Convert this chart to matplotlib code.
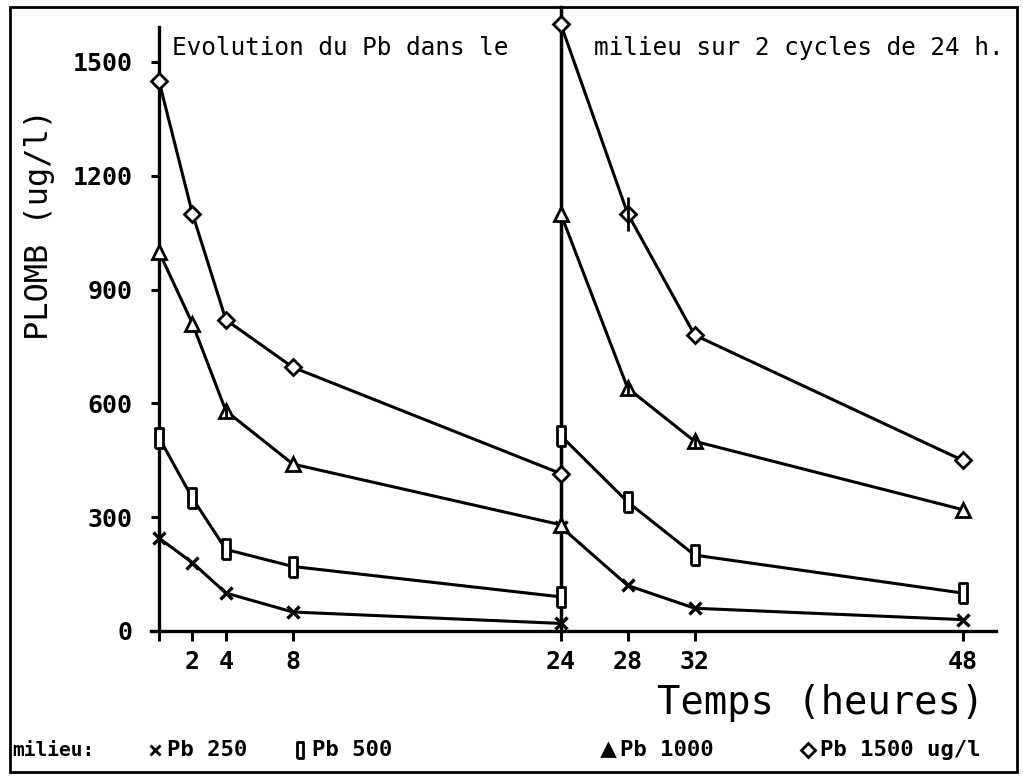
import matplotlib
matplotlib.use('Agg')
import matplotlib.pyplot as plt
from matplotlib.lines import Line2D
from matplotlib.patches import Rectangle

# temps (heures), deux cycles de 24 h
t_cycle1 = [0, 2, 4, 8, 24]
t_cycle2 = [24, 28, 32, 48]

# concentrations en plomb (ug/l)
pb250_c1 = [245, 180, 100, 50, 20]
pb250_c2 = [275, 120, 60, 30]
pb500_c1 = [510, 350, 215, 170, 90]
pb500_c2 = [515, 340, 200, 100]
pb1000_c1 = [1000, 810, 580, 440, 280]
pb1000_c2 = [1100, 640, 500, 320]
pb1500_c1 = [1450, 1100, 820, 695, 415]
pb1500_c2 = [1600, 1100, 780, 450]

# petites barres d'erreur visibles sur le trace
err1000_c1 = [0, 0, 15, 0, 0]
err1000_c2 = [0, 20, 15, 0]
err1500_c2 = [0, 45, 0, 0]

x_ticks = [0, 2, 4, 8, 24, 28, 32, 48]
x_ticklabels = ['', '2', '4', '8', '24', '28', '32', '48']
y_ticks = [0, 300, 600, 900, 1200, 1500]
y_ticklabels = ['0', '300', '600', '900', '1200', '1500']

mono = 'DejaVu Sans Mono'
rect_marker = [(-0.45, -1), (0.45, -1), (0.45, 1), (-0.45, 1), (-0.45, -1)]

fig = plt.figure(figsize=(10.23, 7.79), dpi=100)
ax = fig.add_axes([150.6 / 1023, 148 / 779, 845.4 / 1023, 604 / 779])

lw = 2.2
styles = [
    (pb250_c1, pb250_c2, None, None, dict(marker='x', markersize=9, mew=2.4)),
    (pb500_c1, pb500_c2, None, None, dict(marker=rect_marker, markersize=14, mew=2.0, mfc='white')),
    (pb1000_c1, pb1000_c2, err1000_c1, err1000_c2, dict(marker='^', markersize=10, mew=2.0, mfc='white')),
    (pb1500_c1, pb1500_c2, None, err1500_c2, dict(marker='D', markersize=8, mew=2.0, mfc='white')),
]
for c1, c2, e1, e2, mk in styles:
    for t, y, e in ((t_cycle1, c1, e1), (t_cycle2, c2, e2)):
        ax.plot(t, y, color='black', lw=lw, clip_on=False, zorder=3, mec='black', **mk)
        if e is not None:
            ax.errorbar(t, y, yerr=e, fmt='none', ecolor='black', elinewidth=2,
                        capsize=0, clip_on=False, zorder=3)

# ligne verticale separant les deux cycles
ax.plot([24, 24], [0, 1645], color='black', lw=2.5, clip_on=False, zorder=2)

ax.set_xlim(-0.5, 50)
ax.set_ylim(0, 1592)
ax.spines['top'].set_visible(False)
ax.spines['right'].set_visible(False)
ax.spines['left'].set_position(('data', 0))
ax.spines['left'].set_linewidth(2.4)
ax.spines['bottom'].set_linewidth(2.4)

ax.set_xticks(x_ticks)
ax.set_xticklabels(x_ticklabels, fontfamily=mono, fontsize=18, fontweight='bold')
ax.set_yticks(y_ticks)
ax.set_yticklabels(y_ticklabels, fontfamily=mono, fontsize=18, fontweight='bold')
ax.tick_params(axis='x', direction='out', length=7, width=2.2, pad=7)
ax.tick_params(axis='y', direction='out', length=6, width=2.2, pad=13)

# titre en deux morceaux
fig.text(172 / 1023, 1 - 48 / 779, 'Evolution du Pb dans le', fontfamily=mono,
         fontsize=17.6, va='center', ha='left')
fig.text(594 / 1023, 1 - 48 / 779, 'milieu sur 2 cycles de 24 h.', fontfamily=mono,
         fontsize=17.6, va='center', ha='left')

fig.text(40 / 1023, 1 - 225 / 779, 'PLOMB (ug/l)', fontfamily=mono, fontsize=23,
         rotation=90, va='center', ha='center')
fig.text(821 / 1023, 1 - 703 / 779, 'Temps (heures)', fontfamily=mono, fontsize=28,
         va='center', ha='center')

# legende en bas
leg_y = 1 - 750 / 779
fig.text(12 / 1023, leg_y, 'milieu:', fontfamily=mono, fontsize=14, fontweight='bold',
         va='center', ha='left')
legend_items = [
    (155, 'x', 7, 'white', 'Pb 250'),
    (300, rect_marker, 11, 'white', 'Pb 500'),
    (608, '^', 8, 'black', 'Pb 1000'),
    (808, 'D', 7, 'white', 'Pb 1500 ug/l'),
]
for px, m, ms, fc, lab in legend_items:
    fig.add_artist(Line2D([px / 1023], [leg_y], marker=m, markersize=ms, mfc=fc,
                          mec='black', mew=2, color='black', linestyle='none'))
    fig.text((px + 12) / 1023, leg_y, lab, fontfamily=mono, fontsize=16,
             fontweight='bold', va='center', ha='left')

# cadre autour du graphique
fig.add_artist(Rectangle((10 / 1023, 7 / 779), 1007 / 1023, 765 / 779,
                         transform=fig.transFigure, fill=False, ec='black', lw=2))

plt.savefig('out.png', dpi=100)
